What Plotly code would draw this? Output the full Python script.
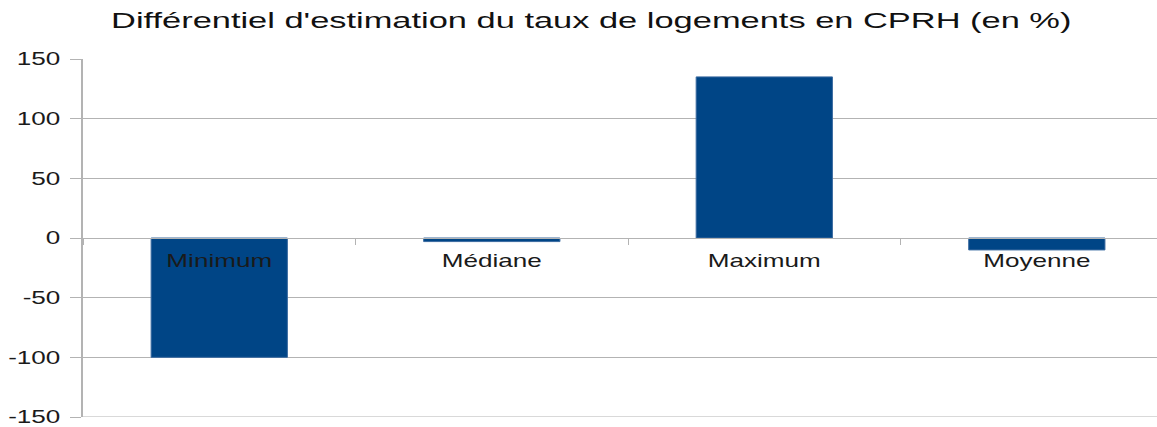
import plotly.graph_objects as go

categories = ["Minimum", "Médiane", "Maximum", "Moyenne"]
values = [-100, -3, 135, -10]
y_ticks = [-150, -100, -50, 0, 50, 100, 150]
y_tick_text = ["-150", "-100", "-50", "0", "50", "100", "150"]

fig = go.Figure()
fig.add_trace(go.Bar(
    x=categories, y=values, width=0.5,
    marker=dict(color="#004586", line=dict(color="#3a6aa0", width=1)),
    showlegend=False,
))

fig.update_layout(
    width=1157, height=427,
    margin=dict(l=83, r=0, t=59, b=8),
    paper_bgcolor="white", plot_bgcolor="white",
    title=dict(text="Différentiel d'estimation du taux de logements en CPRH (en %)",
               x=0.511, xanchor="center", y=0.953, yanchor="middle",
               font=dict(family="Liberation Sans", size=22, color="#111111")),
    font=dict(family="Liberation Sans", color="#1a1a1a"),
)
fig.update_xaxes(
    type="category", range=[-0.5, 3.441],
    anchor="free", position=0.5,
    showline=True, linecolor="#b3b3b3", linewidth=1,
    ticks="outside", tickson="boundaries", ticklen=6, tickcolor="#b3b3b3",
    ticklabelstandoff=6,
    showgrid=False, tickfont=dict(size=18, color="#1a1a1a"),
    zeroline=False,
)
fig.update_yaxes(
    range=[-150, 150], tickvals=y_ticks, ticktext=y_tick_text,
    showgrid=True, gridcolor="#b3b3b3", gridwidth=1,
    showline=True, linecolor="#b3b3b3", linewidth=2,
    ticks="outside", ticklen=11, tickcolor="#b3b3b3",
    ticklabelstandoff=6, ticklabeloverflow="allow",
    zeroline=True, zerolinecolor="#b3b3b3", zerolinewidth=1,
    tickfont=dict(size=18, color="#1a1a1a"),
)
# bottom gridline at the lowest tick
fig.add_hline(y=y_ticks[0], line=dict(color="#b3b3b3", width=1), layer="below")

post = """
document.body.style.margin='0';
var gd = document.getElementById('{plot_id}');
function stretch(sel, s, mode){
  gd.querySelectorAll(sel).forEach(function(t){
    var b = t.getBBox();
    var cx = (mode === 'end') ? (b.x + b.width) : (b.x + b.width / 2);
    var tr = t.getAttribute('transform') || '';
    t.setAttribute('transform', tr + ' translate(' + cx + ',0) scale(' + s + ',1) translate(' + (-cx) + ',0)');
  });
}
stretch('.gtitle', 1.565, 'mid');
stretch('.xtick text', 1.45, 'mid');
stretch('.ytick text', 1.45, 'end');
"""

fig.write_html("out.html", post_script=post, config={"displayModeBar": False})
